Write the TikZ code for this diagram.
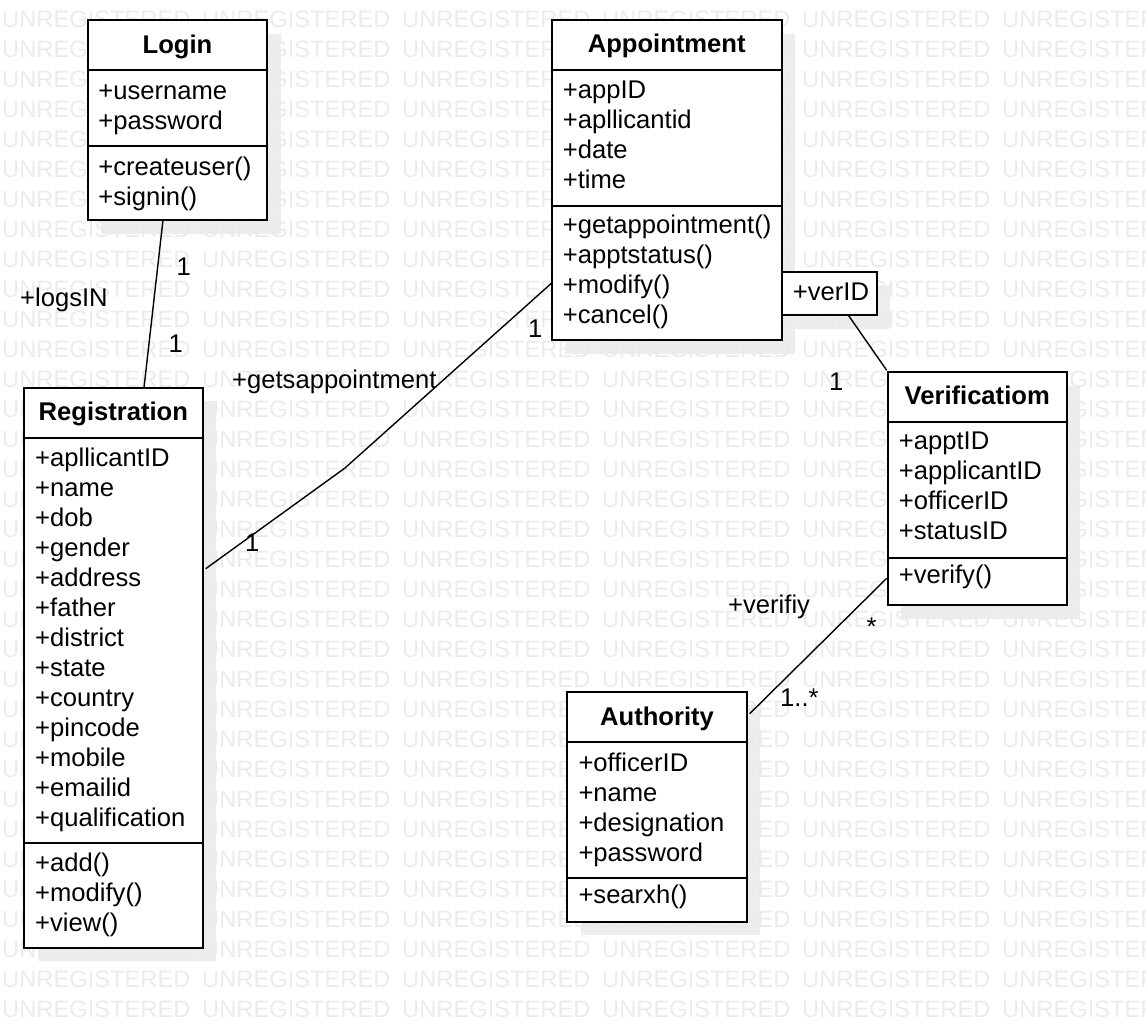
\documentclass[tikz,border=0pt]{standalone}
\usepackage{fontspec}
\setmainfont{Liberation Sans}
\usetikzlibrary{backgrounds}
\tikzset{
  box/.style={draw=black, line width=2pt, fill=white, rectangle, inner sep=0pt, outer sep=0pt, anchor=north west},
  shade/.style={fill=black!7},
  wm/.style={text=black!8, font=\fontsize{23.7}{28}\selectfont, inner sep=0pt, anchor=base west},
  txt/.style={inner sep=0pt, anchor=base west, font=\fontsize{25.6}{30}\selectfont},
  ttl/.style={inner sep=0pt, anchor=base, font=\fontsize{25.6}{30}\selectfont\bfseries},
  conn/.style={draw=black, line width=1.4pt},
  divline/.style={draw=black, line width=2pt}
}
\begin{document}
\begin{tikzpicture}[x=1pt,y=-1pt]
\useasboundingbox (0,0) rectangle (1146,1028);

% ---------- class boxes ----------
\node[box, minimum width=179.6pt, minimum height=200pt] (login) at (87.7,20) {};
\node[box, minimum width=230pt, minimum height=320pt] (appt) at (551.7,20) {};
\node[box, minimum width=95pt, minimum height=43.3pt] (verid) at (781.7,271.7) {};
\node[box, minimum width=179pt, minimum height=232.7pt] (verif) at (887.7,372.3) {};
\node[box, minimum width=178.7pt, minimum height=560pt] (reg) at (24,387.7) {};
\node[box, minimum width=179.4pt, minimum height=230pt] (auth) at (567.3,691.7) {};

% ---------- dividers ----------
\draw[divline] ([yshift=-50pt]login.north west) -- ([yshift=-50pt]login.north east);
\draw[divline] ([yshift=-125.7pt]login.north west) -- ([yshift=-125.7pt]login.north east);
\draw[divline] ([yshift=-50pt]appt.north west) -- ([yshift=-50pt]appt.north east);
\draw[divline] ([yshift=-186pt]appt.north west) -- ([yshift=-186pt]appt.north east);
\draw[divline] ([yshift=-50pt]verif.north west) -- ([yshift=-50pt]verif.north east);
\draw[divline] ([yshift=-185.4pt]verif.north west) -- ([yshift=-185.4pt]verif.north east);
\draw[divline] ([yshift=-50pt]reg.north west) -- ([yshift=-50pt]reg.north east);
\draw[divline] ([yshift=-455.6pt]reg.north west) -- ([yshift=-455.6pt]reg.north east);
\draw[divline] ([yshift=-50.6pt]auth.north west) -- ([yshift=-50.6pt]auth.north east);
\draw[divline] ([yshift=-186pt]auth.north west) -- ([yshift=-186pt]auth.north east);

% ---------- titles ----------
\node[ttl] (login-t) at ([yshift=-33.3pt]login.north) {Login};
\node[ttl] (appt-t) at ([yshift=-32.5pt]appt.north) {Appointment};
\node[ttl] (verif-t) at ([yshift=-32pt]verif.north) {Verificatiom};
\node[ttl] (reg-t) at ([yshift=-32.5pt]reg.north) {Registration};
\node[ttl] (auth-t) at ([yshift=-33.3pt]auth.north) {Authority};

% ---------- members ----------
\foreach \t [count=\i from 0] in {+username,+password}
  \node[txt] (login-a\i) at ([xshift=10.5pt,yshift={-(79.3+30*\i)*1pt}]login.north west) {\t};
\foreach \t [count=\i from 0] in {+createuser(),+signin()}
  \node[txt] (login-m\i) at ([xshift=10.5pt,yshift={-(155+30*\i)*1pt}]login.north west) {\t};

\foreach \t [count=\i from 0] in {+appID,+apllicantid,+date,+time}
  \node[txt] (appt-a\i) at ([xshift=11pt,yshift={-(78.3+30*\i)*1pt}]appt.north west) {\t};
\foreach \t [count=\i from 0] in {+getappointment(),+apptstatus(),+modify(),+cancel()}
  \node[txt] (appt-m\i) at ([xshift=11pt,yshift={-(213.5+30*\i)*1pt}]appt.north west) {\t};

\node[txt] (verid-t) at ([xshift=11pt,yshift=-28.5pt]verid.north west) {+verID};

\foreach \t [count=\i from 0] in {+apptID,+applicantID,+officerID,+statusID}
  \node[txt] (verif-a\i) at ([xshift=11pt,yshift={-(77.5+30*\i)*1pt}]verif.north west) {\t};
\node[txt] (verif-m0) at ([xshift=11pt,yshift=-211.5pt]verif.north west) {+verify()};

\foreach \t [count=\i from 0] in {+apllicantID,+name,+dob,+gender,+address,+father,+district,+state,+country,+pincode,+mobile,+emailid,+qualification}
  \node[txt] (reg-a\i) at ([xshift=11pt,yshift={-(78.3+30*\i)*1pt}]reg.north west) {\t};
\foreach \t [count=\i from 0] in {+add(),+modify(),+view()}
  \node[txt] (reg-m\i) at ([xshift=11pt,yshift={-(484+30*\i)*1pt}]reg.north west) {\t};

\foreach \t [count=\i from 0] in {+officerID,+name,+designation,+password}
  \node[txt] (auth-a\i) at ([xshift=11pt,yshift={-(79.5+30*\i)*1pt}]auth.north west) {\t};
\node[txt] (auth-m0) at ([xshift=11pt,yshift=-211.5pt]auth.north west) {+searxh()};

% ---------- connectors ----------
\coordinate (gbend) at (345,468);
\draw[conn] ([xshift=75.3pt]login.south west) -- ([xshift=120pt]reg.north west);
\draw[conn] ([yshift=-263pt]appt.north west) -- (gbend) -- ([xshift=3pt,yshift=-181pt]reg.north east);
\draw[conn] ([xshift=66.5pt]verid.south west) -- ([xshift=-1pt,yshift=2pt]verif.north west);
\draw[conn] ([xshift=-1pt,yshift=-206pt]verif.north west) -- ([xshift=3pt,yshift=-22pt]auth.north east);

% ---------- labels ----------
\node[txt] (l1) at (176.5,275) {1};
\node[txt] (l2) at (20,306.5) {+logsIN};
\node[txt] (l3) at (168.5,352.5) {1};
\node[txt] (l4) at (232,388) {+getsappointment};
\node[txt] (l5) at (528,337) {1};
\node[txt] (l6) at (245,551.5) {1};
\node[txt] (l7) at (829,390) {1};
\node[txt] (l8) at (728,613) {+verifiy};
\node[txt] (l9) at (866.5,635) {*};
\node[txt] (l10) at (780,706.5) {1..*};

% ---------- background: shadows and watermark ----------
\begin{pgfonlayer}{background}
  \foreach \b in {login,appt,verid,verif,reg,auth}
    \fill[shade] ([shift={(13.5,13.5)}]\b.north west) rectangle ([shift={(13.5,13.5)}]\b.south east);
  \begin{scope}
    \clip (0,0) rectangle (1146,1028);
    \foreach \r in {0,...,34}
      \foreach \c in {0,...,5}
        \node[wm] (wm-\r-\c) at ({2+200*\c},{-2.5+30*\r}) {UNREGISTERED};
  \end{scope}
\end{pgfonlayer}
\end{tikzpicture}
\end{document}
